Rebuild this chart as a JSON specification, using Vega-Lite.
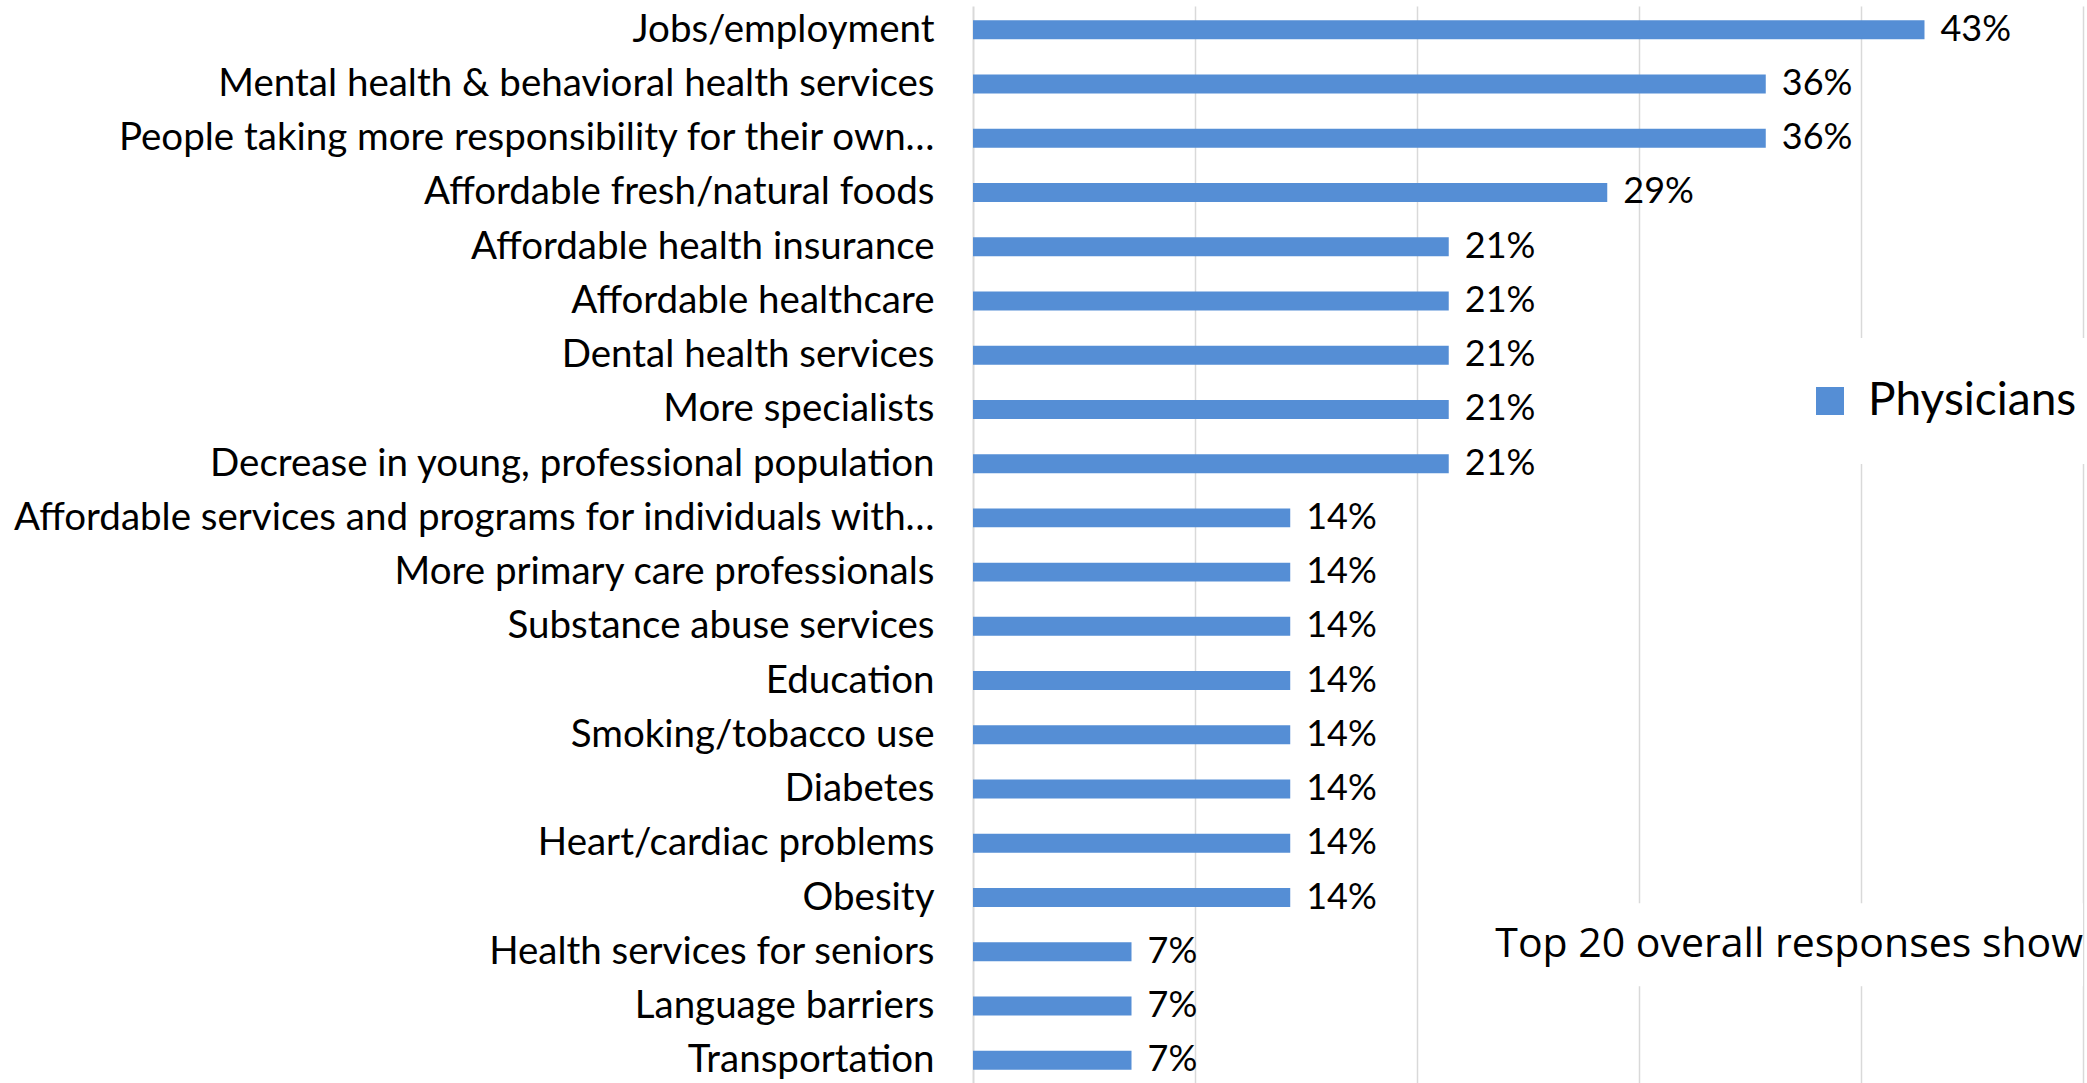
{
  "$schema": "https://vega.github.io/schema/vega-lite/v6.json",
  "autosize": {"type": "none"},
  "width": 1110,
  "height": 1078,
  "padding": {"left": 973, "top": 6, "right": 4, "bottom": 0},
  "background": "white",
  "config": {
    "view": {"stroke": null},
    "font": "Lato"
  },
  "data": {
    "values": [
      {"issue": "Jobs/employment", "pct": 0.4286, "group": "Physicians"},
      {"issue": "Mental health & behavioral health services", "pct": 0.3571, "group": "Physicians"},
      {"issue": "People taking more responsibility for their own…", "pct": 0.3571, "group": "Physicians"},
      {"issue": "Affordable fresh/natural foods", "pct": 0.2857, "group": "Physicians"},
      {"issue": "Affordable health insurance", "pct": 0.2143, "group": "Physicians"},
      {"issue": "Affordable healthcare", "pct": 0.2143, "group": "Physicians"},
      {"issue": "Dental health services", "pct": 0.2143, "group": "Physicians"},
      {"issue": "More specialists", "pct": 0.2143, "group": "Physicians"},
      {"issue": "Decrease in young, professional population", "pct": 0.2143, "group": "Physicians"},
      {"issue": "Affordable services and programs for individuals with…", "pct": 0.1429, "group": "Physicians"},
      {"issue": "More primary care professionals", "pct": 0.1429, "group": "Physicians"},
      {"issue": "Substance abuse services", "pct": 0.1429, "group": "Physicians"},
      {"issue": "Education", "pct": 0.1429, "group": "Physicians"},
      {"issue": "Smoking/tobacco use", "pct": 0.1429, "group": "Physicians"},
      {"issue": "Diabetes", "pct": 0.1429, "group": "Physicians"},
      {"issue": "Heart/cardiac problems", "pct": 0.1429, "group": "Physicians"},
      {"issue": "Obesity", "pct": 0.1429, "group": "Physicians"},
      {"issue": "Health services for seniors", "pct": 0.0714, "group": "Physicians"},
      {"issue": "Language barriers", "pct": 0.0714, "group": "Physicians"},
      {"issue": "Transportation", "pct": 0.0714, "group": "Physicians"}
    ]
  },
  "encoding": {
    "y": {
      "field": "issue",
      "type": "nominal",
      "sort": null,
      "scale": {"paddingInner": 0.65, "paddingOuter": 0.262},
      "axis": {
        "title": null,
        "ticks": false,
        "labelPadding": 39,
        "labelFontSize": 38.5,
        "labelColor": "#000000",
        "labelLimit": 1000,
        "domainColor": "#D9D9D9",
        "domainWidth": 2,
        "grid": false
      }
    }
  },
  "layer": [
    {
      "mark": {"type": "bar"},
      "encoding": {
        "x": {
          "field": "pct",
          "type": "quantitative",
          "scale": {"domain": [0, 0.5], "nice": false},
          "axis": {
            "title": null,
            "labels": false,
            "ticks": false,
            "domain": false,
            "values": [0.1, 0.2, 0.3, 0.4, 0.5],
            "grid": true,
            "gridColor": "#D9D9D9",
            "gridWidth": 1.5
          }
        },
        "color": {
          "field": "group",
          "type": "nominal",
          "scale": {"range": ["#558ED5"]},
          "legend": {
            "title": null,
            "orient": "none",
            "legendX": 794,
            "legendY": 332,
            "padding": 40,
            "fillColor": "white",
            "symbolType": "square",
            "symbolSize": 784,
            "symbolStrokeWidth": 0,
            "labelFontSize": 46,
            "labelFont": "Lato",
            "labelColor": "#000000",
            "labelOffset": 15,
            "labelLimit": 0
          }
        }
      }
    },
    {
      "mark": {"type": "text", "align": "left", "baseline": "middle", "dx": 16, "fontSize": 36, "color": "#000000"},
      "encoding": {
        "x": {"field": "pct", "type": "quantitative"},
        "text": {"field": "pct", "type": "quantitative", "format": ".0%"}
      }
    },
    {
      "data": {"values": [{"issue": "Health services for seniors", "note": "Top 20 overall responses show"}]},
      "mark": {"type": "bar", "color": "white", "height": 83, "yOffset": -7},
      "encoding": {
        "x": {"datum": 0.225, "type": "quantitative"},
        "x2": {"datum": 0.5}
      }
    },
    {
      "data": {"values": [{"issue": "Health services for seniors", "note": "Top 20 overall responses show"}]},
      "mark": {"type": "text", "align": "right", "baseline": "middle", "dy": -7, "font": "Open Sans", "fontSize": 41, "color": "#000000"},
      "encoding": {
        "x": {"datum": 0.5, "type": "quantitative"},
        "text": {"field": "note"}
      }
    }
  ]
}
